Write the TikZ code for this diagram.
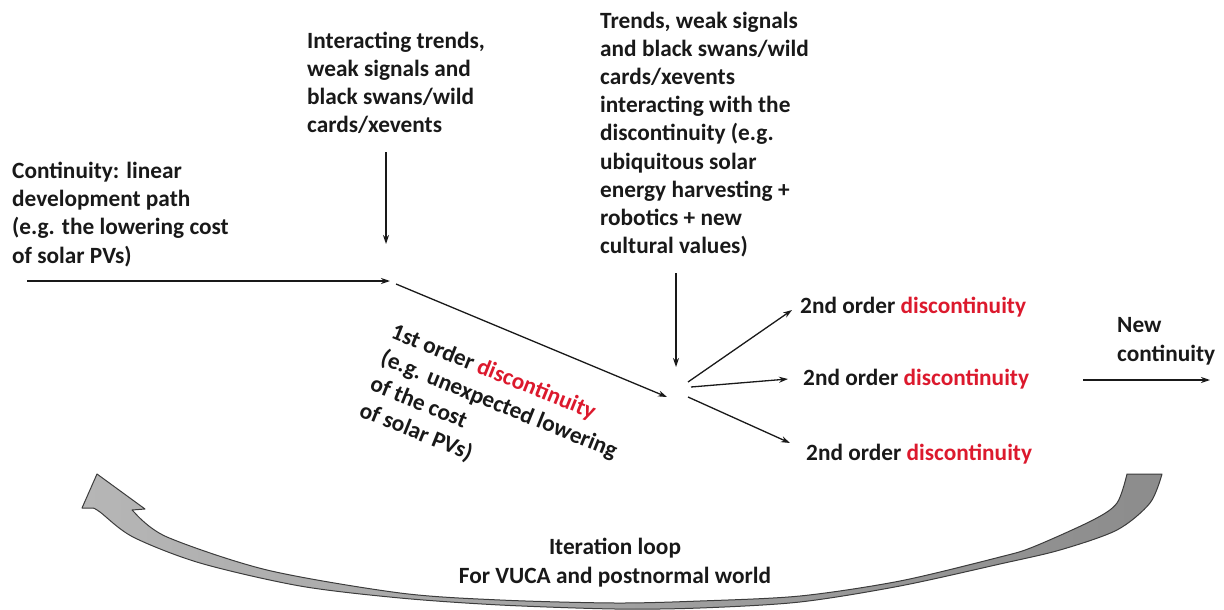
\documentclass[tikz,border=0pt]{standalone}
\usepackage{fontspec}
\setmainfont{Carlito}
\usetikzlibrary{arrows.meta}
\definecolor{dred}{RGB}{220,25,45}
\definecolor{ink}{RGB}{25,25,25}
\definecolor{loopL}{RGB}{182,182,182}
\definecolor{loopR}{RGB}{140,140,140}
\definecolor{loopE}{RGB}{60,60,60}
\begin{document}
\begin{tikzpicture}[x=1pt,y=-1pt,
  lbl/.style={font=\fontsize{23.3}{28.2}\selectfont\bfseries, inner sep=0pt, align=left, text=ink},
  arr/.style={draw=ink, line width=1.3pt, -{Stealth[length=9pt,width=6pt]}}]
\useasboundingbox (0,0) rectangle (1224,610);

% text nodes (base anchor = baseline of the last line)
\node[lbl, anchor=base west] (cont) at (12,263) {Continuity: linear\\development path\\(e.g. the lowering cost\\of solar PVs)};
\node[lbl, anchor=base west] (inter) at (307,132.6) {Interacting trends,\\weak signals and\\black swans/wild\\cards/xevents};
\node[lbl, anchor=base west] (trends) at (600,253.6) {Trends, weak signals\\and black swans/wild\\cards/xevents\\interacting with the\\discontinuity (e.g.\\ubiquitous solar\\energy harvesting +\\robotics + new\\cultural values)};
\node[lbl, anchor=base west, rotate=-22] (first) at (358,416) {1st order \textcolor{dred}{discontinuity}\\(e.g. unexpected lowering\\of the cost\\of solar PVs)};
\node[lbl, anchor=base west] (d1) at (800,313) {2nd order \textcolor{dred}{discontinuity}};
\node[lbl, anchor=base west] (d2) at (803,385) {2nd order \textcolor{dred}{discontinuity}};
\node[lbl, anchor=base west] (d3) at (806,460) {2nd order \textcolor{dred}{discontinuity}};
\node[lbl, anchor=base west] (newc) at (1117,361) {New\\continuity};
\node[lbl, align=center, anchor=base] (iter) at (615,583) {Iteration loop\\For VUCA and postnormal world};

% connector end points
\coordinate (h0) at (27,281);
\coordinate (h1) at (390,281);
\coordinate (v1a) at (386,152);
\coordinate (v1b) at (386,244);
\coordinate (g0) at (396,284);
\coordinate (g1) at (667,397);
\coordinate (v2a) at (676,273);
\coordinate (v2b) at (676,367);
\coordinate (s1a) at (688,382);
\coordinate (s1b) at (792,310);
\coordinate (s2a) at (691,387);
\coordinate (s2b) at (788,379);
\coordinate (s3a) at (688,397);
\coordinate (s3b) at (790,443);
\coordinate (n0) at (1083,380);
\coordinate (n1) at (1210,380);

\draw[arr] (h0) -- (h1);
\draw[arr] (v1a) -- (v1b);
\draw[arr] (g0) -- (g1);
\draw[arr] (v2a) -- (v2b);
\draw[arr] (s1a) -- (s1b);
\draw[arr] (s2a) -- (s2b);
\draw[arr] (s3a) -- (s3b);
\draw[arr] (n0) -- (n1);

% iteration loop arrow
\draw[draw=loopE, line width=1pt, line join=round, left color=loopL, right color=loopR]
  plot[smooth] coordinates {(1162,474) (1150,503) (1117,530) (1060,550) (1000,564) (900,586) (800,602) (700,608) (615,609) (500,605) (400,598) (300,586) (200,563) (133,537) (100,512) (93,508)}
  -- (82,508) -- (97,474) -- (145,509) -- (132,510) --
  plot[smooth] coordinates {(135,513) (167,537) (267,570) (400,593) (500,600) (615,603) (700,601) (800,596) (900,581) (1000,557) (1033,547) (1093,520) (1117,503) (1127,474)}
  -- cycle;
\end{tikzpicture}
\end{document}
